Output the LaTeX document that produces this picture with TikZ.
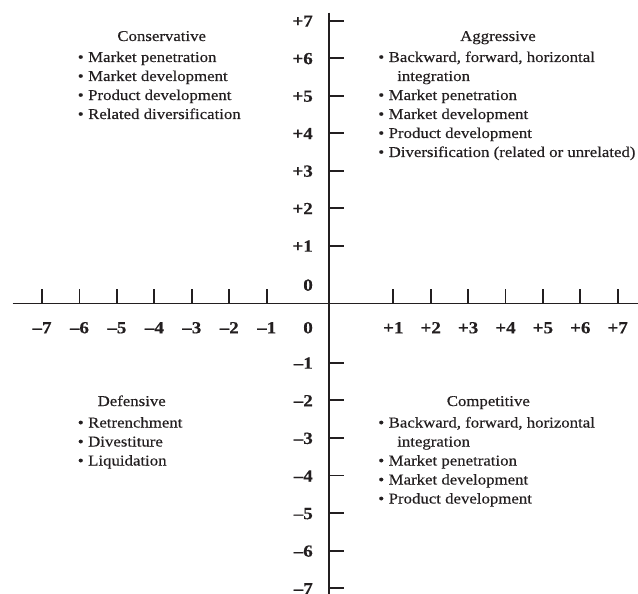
\documentclass[tikz,border=0pt]{standalone}
\usepackage{fontspec}
\setmainfont{Liberation Serif}[FakeStretch=1.12,FakeBold=0.35]
\definecolor{ink}{HTML}{231F20}
\newcommand\bulit{\llap{\textbullet\hspace{4.5pt}}}
\begin{document}
\begin{tikzpicture}[x=1pt,y=-1pt,
  txt/.style={inner sep=0pt, text=ink, font=\fontsize{15}{19}\selectfont},
  item/.style={txt, anchor=base west},
  head/.style={txt, anchor=base},
  lab/.style={inner sep=0pt, text=ink, font=\fontsize{17}{20}\selectfont\bfseries},
  axisline/.style={draw=ink, line width=1.9pt},
  tickline/.style={draw=ink, line width=1.9pt}]
\useasboundingbox (0,0) rectangle (638,594);
% axes
\coordinate (hl) at (12.7,303.5);
\coordinate (hr) at (638,303.5);
\coordinate (vt) at (329.3,12.7);
\coordinate (vb) at (329.3,594);
\draw[axisline] (hl) -- (hr);
\draw[axisline] (vt) -- (vb);
% ticks and labels
\foreach \k in {1,...,7} {
  \pgfmathsetmacro\xn{266.7-(\k-1)*37.45}
  \pgfmathsetmacro\xp{393.3+(\k-1)*37.4}
  \draw[tickline] (\xn,303.5) -- (\xn,289);
  \draw[tickline] (\xp,303.5) -- (\xp,289);
  \node[lab,anchor=base] (xn\k) at (\xn,333.3) {\textendash\k};
  \node[lab,anchor=base] (xp\k) at (\xp,333.3) {+\k};
  \pgfmathsetmacro\yp{245.7-(\k-1)*37.5}
  \pgfmathsetmacro\yn{362.7+(\k-1)*37.6}
  \draw[tickline] (329.3,\yp) -- (343.5,\yp);
  \draw[tickline] (329.3,\yn) -- (343.5,\yn);
  \node[lab,anchor=base east] (yp\k) at (313,\yp+6) {+\k};
  \node[lab,anchor=base east] (yn\k) at (313,\yn+6) {\textendash\k};
}
\node[lab,anchor=base east] (z1) at (313,290.7) {0};
\node[lab,anchor=base east] (z2) at (313,333.3) {0};
% Conservative
\node[head] (conh) at (161.7,41) {Conservative};
\node[item] (con1) at (88,62) {\bulit Market penetration};
\node[item] (con2) at (88,81) {\bulit Market development};
\node[item] (con3) at (88,100) {\bulit Product development};
\node[item] (con4) at (88,119) {\bulit Related diversification};
% Aggressive
\node[head] (aggh) at (498,41) {Aggressive};
\node[item] (agg1) at (388.5,62) {\bulit Backward, forward, horizontal};
\node[item] (agg1b) at (397,81) {integration};
\node[item] (agg2) at (388.5,100) {\bulit Market penetration};
\node[item] (agg3) at (388.5,119) {\bulit Market development};
\node[item] (agg4) at (388.5,138) {\bulit Product development};
\node[item] (agg5) at (388.5,157) {\bulit Diversification (related or unrelated)};
% Defensive
\node[head] (defh) at (131.7,406) {Defensive};
\node[item] (def1) at (88,427.5) {\bulit Retrenchment};
\node[item] (def2) at (88,446.5) {\bulit Divestiture};
\node[item] (def3) at (88,465.5) {\bulit Liquidation};
% Competitive
\node[head] (comh) at (488.3,406) {Competitive};
\node[item] (com1) at (388.5,427.5) {\bulit Backward, forward, horizontal};
\node[item] (com1b) at (397,446.5) {integration};
\node[item] (com2) at (388.5,465.5) {\bulit Market penetration};
\node[item] (com3) at (388.5,484.5) {\bulit Market development};
\node[item] (com4) at (388.5,503.5) {\bulit Product development};
\end{tikzpicture}
\end{document}
